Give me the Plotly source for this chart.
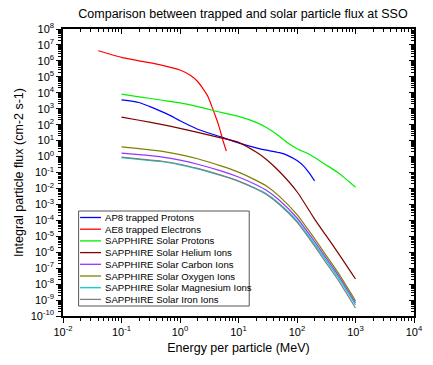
import plotly.graph_objects as go

# ---- AP8 trapped protons ----
ap8_energy = [0.1, 0.2, 0.3, 0.5, 0.7, 1, 2, 5, 10, 20, 30, 50, 70, 100, 130, 160, 200]
ap8_flux = [3600, 2450, 1400, 630, 355, 175, 52, 17, 7.2, 3.5, 2.5, 1.75, 1.15, 0.56, 0.25, 0.098, 0.03]

# ---- AE8 trapped electrons ----
ae8_energy = [0.04, 0.1, 0.2, 0.5, 1, 1.5, 2, 2.5, 3, 3.5, 4, 4.5, 5, 5.5, 6, 6.2]
ae8_flux = [4.3e6, 1.65e6, 1.0e6, 5.3e5, 2.7e5, 1.25e5, 5.1e4, 1.7e4, 5.9e3, 1.4e3, 380, 112, 30, 8.5, 3.2, 2.2]

# ---- SAPPHIRE solar particle spectra (shared energy grid) ----
sapphire_energy = [0.1, 0.2, 0.5, 1, 2, 5, 10, 20, 30, 50, 100, 200, 300, 500, 1000]
proton_energy = [0.1, 0.2, 0.5, 1, 2, 5, 10, 20, 30, 50, 70, 100, 150, 200, 300, 500, 1000]
proton_flux = [8300, 5600, 3400, 2300, 1350, 590, 330, 140, 67, 19, 7, 3.1, 1.6, 0.87, 0.33, 0.1, 0.012]
helium_flux = [300, 190, 100, 59, 33, 15, 7.8, 1.9, 0.66, 0.115, 6.2e-3, 1.2e-4, 1.4e-5, 9.5e-7, 2.1e-8]
carbon_flux = [1.66, 1.32, 0.93, 0.60, 0.33, 0.126, 0.052, 0.017, 7.6e-3, 1.8e-3, 1.4e-4, 4.6e-6, 5.5e-7, 3.8e-8, 6.6e-10]
oxygen_flux = [4.0, 3.1, 2.1, 1.33, 0.73, 0.26, 0.105, 0.032, 0.014, 3.2e-3, 2.3e-4, 7.1e-6, 8.1e-7, 5.4e-8, 9e-10]
magnesium_flux = [0.85, 0.66, 0.47, 0.30, 0.17, 0.066, 0.029, 9.8e-3, 4.6e-3, 1.1e-3, 9.3e-5, 3.2e-6, 4.0e-7, 2.8e-8, 5.0e-10]
iron_flux = [0.93, 0.72, 0.51, 0.33, 0.18, 0.069, 0.029, 9.3e-3, 4.2e-3, 9.8e-4, 7.6e-5, 2.4e-6, 2.8e-7, 1.9e-8, 3.2e-10]

series_names = [
    "AP8 trapped Protons",
    "AE8 trapped Electrons",
    "SAPPHIRE Solar Protons",
    "SAPPHIRE Solar Helium Ions",
    "SAPPHIRE Solar Carbon Ions",
    "SAPPHIRE Solar Oxygen Ions",
    "SAPPHIRE Solar Magnesium Ions",
    "SAPPHIRE Solar Iron Ions",
]
series_x = [ap8_energy, ae8_energy, proton_energy, sapphire_energy,
            sapphire_energy, sapphire_energy, sapphire_energy, sapphire_energy]
series_y = [ap8_flux, ae8_flux, proton_flux, helium_flux,
            carbon_flux, oxygen_flux, magnesium_flux, iron_flux]
series_colors = ["#0000ff", "#ff0000", "#00ee00", "#800000",
                 "#9933ff", "#808000", "#00d0d0", "#808080"]

x_exponents = list(range(-2, 5))
y_exponents = list(range(-10, 9))

FONT = "Arial, Liberation Sans, sans-serif"

fig = go.Figure()
for i, (name, xs, ys, col) in enumerate(zip(series_names, series_x, series_y, series_colors)):
    # first series on the bottom/left axes, the rest on the mirrored top/right pair
    fig.add_trace(go.Scatter(
        x=xs, y=ys, name=name, mode="lines",
        line=dict(color=col, width=1.2, shape="spline", smoothing=0.6),
        showlegend=False,
        xaxis="x" if i == 0 else "x2",
        yaxis="y" if i == 0 else "y2",
    ))

# plot area geometry (pixels)
W, H = 433, 365
ML, MR, MT, MB = 63, 10, 29, 49
PW, PH = W - ML - MR, H - MT - MB


def px_x(p):
    return (p - ML) / PW


def px_y(p):
    return 1 - (p - MT) / PH


def minor_vals(exps):
    return [k * 10 ** e for e in exps[:-1] for k in range(2, 10)]


axis_common = dict(
    type="log", showgrid=False, zeroline=False,
    showline=True, linecolor="black", linewidth=1.5,
    tickcolor="black", tickwidth=1.2,
)

x_ticks = dict(tickmode="array", tickvals=[10 ** e for e in x_exponents],
               ticktext=[f"10<sup>{e}</sup>" for e in x_exponents])
y_ticks = dict(tickmode="array", tickvals=[10 ** e for e in y_exponents],
               ticktext=[f"10<sup>{e}</sup>" for e in y_exponents])


def minor(exps, direction):
    return dict(tickmode="array", tickvals=minor_vals(exps), ticks=direction,
                ticklen=3, tickcolor="black", tickwidth=1, showgrid=False)


fig.update_layout(
    width=W, height=H,
    margin=dict(l=ML, r=MR, t=MT, b=MB),
    paper_bgcolor="white", plot_bgcolor="white",
    font=dict(family=FONT, color="black", size=11),
    title=dict(text="Comparison between trapped and solar particle flux at SSO",
               x=(ML + PW / 2) / W, xanchor="center", y=1 - 14 / H, yanchor="middle",
               font=dict(size=12.5, family=FONT)),
    xaxis=dict(
        **axis_common, **x_ticks, range=[-2, 4],
        ticks="outside", ticklen=5,
        minor=minor(x_exponents, "outside"),
        title=dict(text="Energy per particle (MeV)", font=dict(size=12.5), standoff=6),
    ),
    yaxis=dict(
        **axis_common, **y_ticks, range=[-10, 8],
        ticks="outside", ticklen=5,
        minor=minor(y_exponents, "outside"),
        title=dict(text="Integral particle flux (cm-2 s-1)", font=dict(size=12.5), standoff=4),
    ),
    xaxis2=dict(
        **axis_common, **x_ticks, range=[-2, 4], overlaying="x", side="top", anchor="y2",
        ticks="inside", ticklen=5, showticklabels=False,
        minor=minor(x_exponents, "inside"),
    ),
    yaxis2=dict(
        **axis_common, **y_ticks, range=[-10, 8], overlaying="y", side="right", anchor="x2",
        ticks="inside", ticklen=5, showticklabels=False,
        minor=minor(y_exponents, "inside"),
    ),
)

# legend box drawn inside the plot area
LEG_L, LEG_R, LEG_T, LEG_B = 79, 254, 211, 306
ROW0, ROW_STEP = 217.5, 11.7
SYM_X0, SYM_X1, TXT_X = 80.5, 102, 104

shapes = [dict(type="rect", xref="paper", yref="paper",
               x0=px_x(LEG_L), x1=px_x(LEG_R), y0=px_y(LEG_B), y1=px_y(LEG_T),
               line=dict(color="#555555", width=1), fillcolor="white", layer="above")]
annotations = []
for i, (name, col) in enumerate(zip(series_names, series_colors)):
    yy = px_y(ROW0 + i * ROW_STEP)
    shapes.append(dict(type="line", xref="paper", yref="paper",
                       x0=px_x(SYM_X0), x1=px_x(SYM_X1), y0=yy, y1=yy,
                       line=dict(color=col, width=1.3), layer="above"))
    annotations.append(dict(xref="paper", yref="paper", x=px_x(TXT_X), y=yy,
                            text=name, showarrow=False, xanchor="left", yanchor="middle",
                            font=dict(size=9.6, family=FONT, color="black")))

fig.update_layout(shapes=shapes, annotations=annotations)

fig.write_html("out.html")
